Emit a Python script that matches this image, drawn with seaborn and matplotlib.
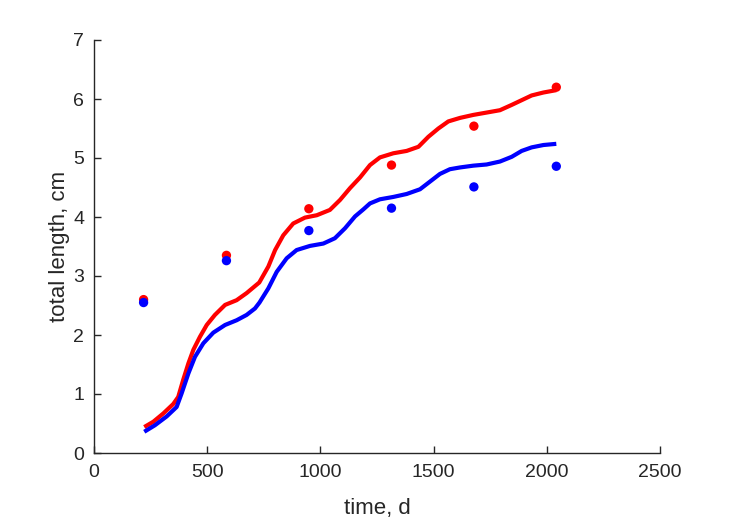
import matplotlib
matplotlib.use("Agg")
import matplotlib.pyplot as plt
import seaborn as sns
import pandas as pd

# observed data
obs_time = [219, 585, 949, 1314, 1678, 2042]
obs_red = [2.60, 3.35, 4.14, 4.88, 5.54, 6.20]
obs_blue = [2.55, 3.26, 3.77, 4.15, 4.51, 4.86]

# model curves
red_t = [222, 262, 306, 350, 372, 394, 417, 439, 468, 498, 534, 579, 630, 674,
         730, 770, 800, 836, 880, 932, 984, 1042, 1087, 1131, 1175, 1219, 1263,
         1322, 1381, 1433, 1477, 1521, 1565, 1617, 1675, 1734, 1793, 1845, 1889,
         1933, 1985, 2042]
red_y = [0.44, 0.53, 0.67, 0.83, 0.95, 1.24, 1.52, 1.75, 1.97, 2.17, 2.34, 2.51,
         2.59, 2.71, 2.89, 3.16, 3.44, 3.69, 3.89, 3.99, 4.03, 4.12, 4.29, 4.49,
         4.67, 4.88, 5.01, 5.08, 5.12, 5.19, 5.36, 5.50, 5.62, 5.68, 5.73, 5.77,
         5.81, 5.90, 5.98, 6.06, 6.11, 6.15]
blue_t = [222, 269, 321, 365, 387, 417, 446, 483, 527, 579, 630, 674, 711, 731,
          770, 807, 851, 895, 954, 1013, 1064, 1109, 1153, 1190, 1219, 1263,
          1322, 1381, 1440, 1484, 1528, 1572, 1617, 1675, 1734, 1793, 1845,
          1889, 1933, 1985, 2042]
blue_y = [0.36, 0.47, 0.62, 0.78, 1.01, 1.35, 1.63, 1.86, 2.04, 2.17, 2.25, 2.34,
          2.45, 2.55, 2.79, 3.07, 3.30, 3.44, 3.51, 3.55, 3.64, 3.81, 4.01, 4.13,
          4.23, 4.30, 4.34, 4.39, 4.47, 4.60, 4.73, 4.81, 4.84, 4.87, 4.89, 4.94,
          5.02, 5.12, 5.18, 5.22, 5.24]

sns.set_style("white")
plt.rcParams['font.family'] = ['Liberation Sans', 'DejaVu Sans']

fig = plt.figure(figsize=(7.29, 5.21), dpi=100)
ax = fig.add_axes([94/729, 1-453/521, 566/729, 413/521])

df_red = pd.DataFrame({"t": red_t, "y": red_y})
df_blue = pd.DataFrame({"t": blue_t, "y": blue_y})
sns.lineplot(data=df_red, x="t", y="y", color=(1, 0, 0), lw=3, ax=ax, sort=False,
             solid_joinstyle="round", solid_capstyle="butt")
sns.lineplot(data=df_blue, x="t", y="y", color=(0, 0, 1), lw=3, ax=ax, sort=False,
             solid_joinstyle="round", solid_capstyle="butt")

df_obs = pd.DataFrame({"t": obs_time, "red": obs_red, "blue": obs_blue})
sns.scatterplot(data=df_obs, x="t", y="red", color=(1, 0, 0), s=45, edgecolor="none", ax=ax, zorder=3)
sns.scatterplot(data=df_obs, x="t", y="blue", color=(0, 0, 1), s=45, edgecolor="none", ax=ax, zorder=3)

ax.set_xlim(0, 2500)
ax.set_ylim(0, 7)
ax.set_xticks([0, 500, 1000, 1500, 2000, 2500])
ax.set_yticks(range(0, 8))
ax.set_xlabel("time, d", fontsize=16, color="#262626", labelpad=12)
ax.set_ylabel("total length, cm", fontsize=16, color="#262626", labelpad=2)
ax.tick_params(direction="in", length=5, width=1, labelsize=14, colors="#262626",
               left=True, bottom=True)
ax.tick_params(axis="x", pad=8)
ax.tick_params(axis="y", pad=7)
for s in ["top", "right"]:
    ax.spines[s].set_visible(False)
for s in ["left", "bottom"]:
    ax.spines[s].set_color("#262626")
    ax.spines[s].set_linewidth(1)

fig.savefig("out.png", dpi=100)
